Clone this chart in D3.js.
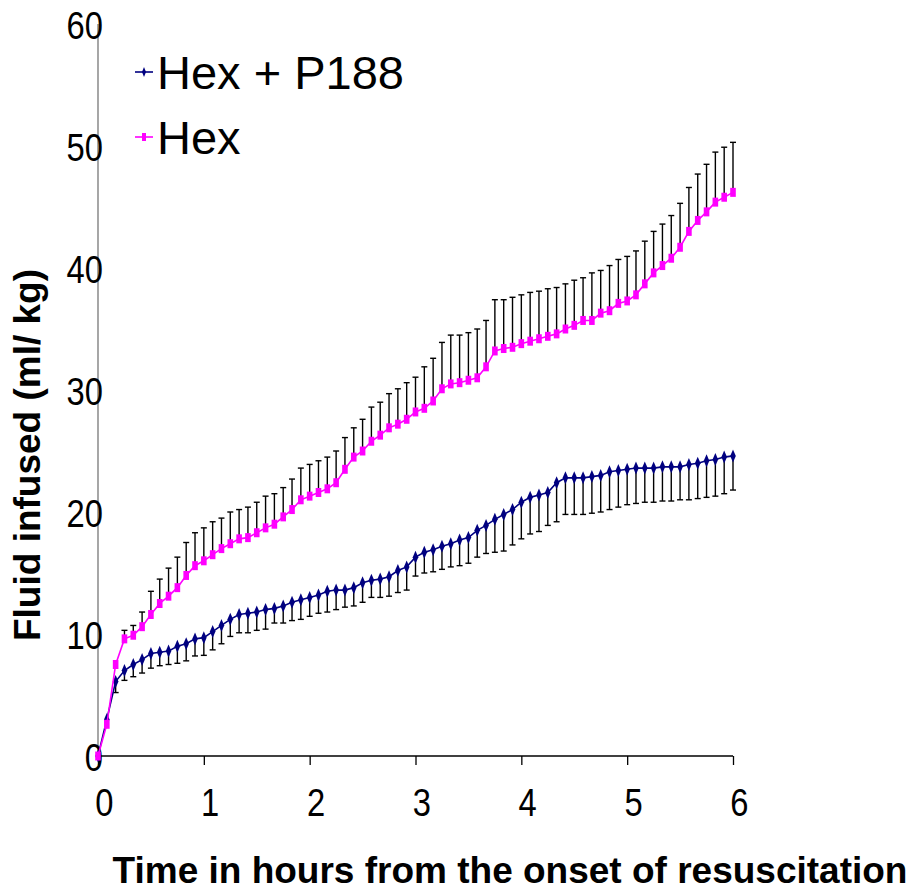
<!DOCTYPE html>
<html>
<head>
<meta charset="utf-8">
<script src="https://cdn.jsdelivr.net/npm/d3@7"></script>
<style>
  body { margin: 0; background: #fff; }
  svg { display: block; font-family: Arial, "Liberation Sans", sans-serif; }
</style>
</head>
<body>
<div id="chart"></div>
<script>
// sample times, minutes from onset of resuscitation
var minutes = [0,5,10,15,20,25,30,35,40,45,50,55,60,65,70,75,80,85,90,95,100,105,110,115,
  120,125,130,135,140,145,150,155,160,165,170,175,180,185,190,195,200,205,210,215,220,225,230,235,
  240,245,250,255,260,265,270,275,280,285,290,295,300,305,310,315,320,325,330,335,340,345,350,355,360];

// Hex + P188 mean and SD (bars drawn below)
var hexP188 = [0,3.0,6.1,7.0,7.5,7.9,8.4,8.5,8.6,9.0,9.2,9.6,9.7,10.2,10.7,11.2,11.6,11.7,11.8,12.0,12.1,12.3,12.6,12.8,
  13.0,13.2,13.5,13.6,13.6,13.8,14.2,14.4,14.5,14.7,15.2,15.5,16.3,16.7,16.9,17.2,17.4,17.7,17.9,18.5,18.9,19.4,19.8,20.2,
  20.8,21.2,21.4,21.6,22.4,22.8,22.8,22.8,22.9,23.0,23.3,23.4,23.5,23.6,23.6,23.6,23.7,23.7,23.7,23.9,24.0,24.2,24.3,24.5,24.6];
var hexP188Sd = [0,0,0.9,0.8,1.0,1.1,1.2,1.1,1.1,1.4,1.4,1.4,1.45,1.5,1.5,1.4,1.5,1.6,1.5,1.6,1.2,1.4,1.5,1.6,
  1.55,1.5,1.7,1.6,1.4,1.5,1.6,1.4,1.5,1.6,1.8,1.9,1.55,1.7,1.8,1.9,1.9,2.1,2.1,2.2,2.3,2.7,3.0,2.9,
  3.0,3.0,3.0,2.7,3.2,3.0,3.0,3.0,3.0,3.0,3.1,3.0,2.9,2.9,2.8,2.8,2.8,2.8,2.7,2.9,2.9,3.0,3.0,3.0,2.8];

// Hex mean and SD (bars drawn above)
var hex = [0,2.6,7.5,9.6,9.9,10.6,11.6,12.5,13.1,13.8,14.8,15.6,16.0,16.5,17.0,17.4,17.8,17.9,18.3,18.7,19.0,19.6,20.2,21.0,
  21.3,21.6,21.9,22.4,23.5,24.5,25.0,25.8,26.3,26.9,27.2,27.6,28.2,28.5,29.1,30.1,30.5,30.6,30.8,31.0,31.9,33.2,33.4,33.5,
  33.8,34.0,34.2,34.4,34.6,35.0,35.3,35.7,35.7,36.3,36.5,37.1,37.3,37.8,38.7,39.6,40.2,40.8,41.7,43.0,43.9,44.6,45.4,45.8,46.2];
var hexSd = [0,0,0,0.7,0.8,1.2,1.9,2.0,2.3,2.5,2.7,2.7,2.7,2.7,2.5,2.6,2.4,2.5,2.5,2.6,2.5,2.4,2.5,2.6,
  2.6,2.6,2.6,2.6,2.6,2.4,2.6,2.8,2.7,2.8,2.9,3.0,2.85,3.4,3.5,3.8,4.0,3.9,3.9,4.0,3.8,4.2,4.0,4.1,
  4.0,4.0,3.9,3.9,3.8,3.7,3.7,3.5,3.9,3.5,3.7,3.6,3.65,3.6,3.5,3.4,3.4,3.5,3.6,3.6,3.8,3.9,4.1,4.1,4.1];

var xTicks = [0,1,2,3,4,5,6];
var yTicks = [0,10,20,30,40,50,60];
var seriesNames = ["Hex + P188", "Hex"];

var width = 915, height = 891;

var svg = d3.select('#chart').append('svg')
  .attr('width', width)
  .attr('height', height);

var xScale = d3.scaleLinear().domain([0, 6]).range([98, 733]);
var yScale = d3.scaleLinear().domain([0, 60]).range([756, 24]);

var hexP188Rows = minutes.map(function(m, i) {
  return {t: m / 60, v: hexP188[i], sd: hexP188Sd[i]};
});
var hexRows = minutes.map(function(m, i) {
  return {t: m / 60, v: hex[i], sd: hexSd[i]};
});

// axes
var xAxis = d3.axisBottom(xScale).tickValues(xTicks).tickFormat(d3.format('d'))
  .tickSize(9).tickPadding(23);
var yAxis = d3.axisLeft(yScale).tickValues(yTicks).tickFormat(d3.format('d'))
  .tickSize(0).tickPadding(0);

var gx = svg.append('g')
  .attr('transform', 'translate(0,756)')
  .call(xAxis);
gx.select('.domain').attr('d', 'M98,0H733').attr('stroke', '#000').attr('stroke-width', 1.3);
gx.selectAll('.tick line').attr('stroke', '#000').attr('stroke-width', 1.3);
gx.selectAll('.tick text')
  .attr('fill', '#000')
  .attr('x', 7)
  .style('font-size', '39px')
  .attr('dy', '0.71em')
  .attr('transform', 'scale(0.84,1)');

var gy = svg.append('g')
  .attr('transform', 'translate(98,0)')
  .call(yAxis);
gy.select('.domain').attr('d', 'M0,24V756').attr('stroke', '#777').attr('stroke-width', 1.3);
gy.selectAll('.tick text')
  .attr('fill', '#000')
  .attr('x', 6)
  .style('font-size', '39px')
  .attr('dy', '0.36em')
  .attr('transform', 'scale(0.84,1)');

// error bars
function errorBars(rows, dir) {
  var g = svg.append('g').attr('stroke', '#000').attr('stroke-width', 1.4);
  var bars = rows.filter(function(d) { return d.sd > 0; });
  g.selectAll('line.stem').data(bars).enter().append('line')
    .attr('x1', function(d) { return xScale(d.t); })
    .attr('x2', function(d) { return xScale(d.t); })
    .attr('y1', function(d) { return yScale(d.v); })
    .attr('y2', function(d) { return yScale(d.v + dir * d.sd); });
  g.selectAll('line.cap').data(bars).enter().append('line')
    .attr('x1', function(d) { return xScale(d.t) - 3; })
    .attr('x2', function(d) { return xScale(d.t) + 3; })
    .attr('y1', function(d) { return yScale(d.v + dir * d.sd); })
    .attr('y2', function(d) { return yScale(d.v + dir * d.sd); });
}
errorBars(hexP188Rows, -1);
errorBars(hexRows, 1);

var line = d3.line()
  .x(function(d) { return xScale(d.t); })
  .y(function(d) { return yScale(d.v); });

var diamond = 'M0,-6.5L2.8,0L0,6.5L-2.8,0Z';

// Hex + P188
svg.append('path').datum(hexP188Rows)
  .attr('fill', 'none').attr('stroke', '#000080').attr('stroke-width', 1.6)
  .attr('d', line);
svg.append('g').selectAll('path').data(hexP188Rows).enter().append('path')
  .attr('d', diamond)
  .attr('fill', '#000080')
  .attr('transform', function(d) { return 'translate(' + xScale(d.t) + ',' + yScale(d.v) + ')'; });

// Hex
svg.append('path').datum(hexRows)
  .attr('fill', 'none').attr('stroke', '#ff00ff').attr('stroke-width', 1.6)
  .attr('d', line);
svg.append('g').selectAll('rect').data(hexRows).enter().append('rect')
  .attr('x', function(d) { return xScale(d.t) - 2.8; })
  .attr('y', function(d) { return yScale(d.v) - 4.5; })
  .attr('width', 5.6)
  .attr('height', 9)
  .attr('fill', '#ff00ff');

// legend
var legend = svg.append('g');
var l1 = legend.append('g').attr('transform', 'translate(144,72)');
l1.append('line').attr('x1', -9).attr('x2', 9).attr('stroke', '#000080').attr('stroke-width', 1.6);
l1.append('path').attr('d', 'M0,-5L2,0L0,5L-2,0Z').attr('fill', '#000080');
l1.append('text').attr('x', 13).attr('dy', '0.36em').style('font-size', '47px').text(seriesNames[0]);

var l2 = legend.append('g').attr('transform', 'translate(144,137)');
l2.append('line').attr('x1', -9).attr('x2', 9).attr('stroke', '#ff00ff').attr('stroke-width', 1.6);
l2.append('rect').attr('x', -2).attr('y', -4).attr('width', 4).attr('height', 8).attr('fill', '#ff00ff');
l2.append('text').attr('x', 13).attr('dy', '0.36em').style('font-size', '47px').text(seriesNames[1]);

// axis titles
svg.append('text')
  .attr('transform', 'translate(40,455) rotate(-90)')
  .attr('text-anchor', 'middle')
  .style('font-size', '37px').style('font-weight', 'bold')
  .text('Fluid infused (ml/ kg)');

svg.append('text')
  .attr('x', 510).attr('y', 883)
  .attr('text-anchor', 'middle')
  .style('font-size', '37px').style('font-weight', 'bold')
  .text('Time in hours from the onset of resuscitation');
</script>
</body>
</html>
